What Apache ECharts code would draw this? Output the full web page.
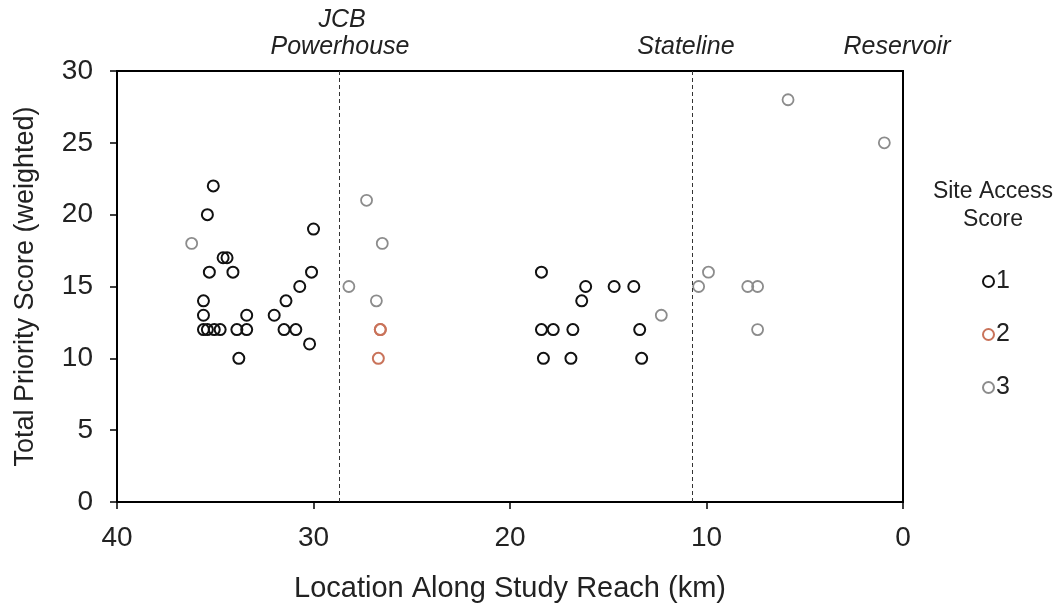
<!DOCTYPE html>
<html>
<head>
<meta charset="utf-8">
<script src="https://cdn.jsdelivr.net/npm/echarts@6/dist/echarts.min.js"></script>
<style>html,body{margin:0;padding:0;background:#fff}#c{width:1060px;height:608px}</style>
</head>
<body>
<div id="c"></div>
<script>
// Site Access Score 1
const access1 = [
  [35.1, 22], [35.4, 20], [34.6, 17], [34.4, 17], [35.3, 16], [34.1, 16],
  [30.0, 19], [30.1, 16], [30.7, 15], [31.4, 14], [35.6, 14], [35.6, 13],
  [33.4, 13], [32.0, 13], [35.6, 12], [35.4, 12], [35.05, 12], [34.75, 12],
  [33.9, 12], [33.4, 12], [31.5, 12], [30.9, 12], [30.2, 11], [33.8, 10],
  [18.4, 16], [16.15, 15], [14.7, 15], [13.7, 15], [16.35, 14],
  [18.4, 12], [17.8, 12], [16.8, 12], [13.4, 12],
  [18.3, 10], [16.9, 10], [13.3, 10]
];
// Site Access Score 2
const access2 = [
  [26.6, 12], [26.6, 12], [26.7, 10]
];
// Site Access Score 3
const access3 = [
  [36.2, 18], [28.2, 15], [27.3, 21], [26.5, 18], [26.8, 14],
  [12.3, 13], [5.85, 28], [0.95, 25], [9.9, 16], [10.4, 15],
  [7.9, 15], [7.4, 15], [7.4, 12]
];
// Reference locations (km)
const landmarks = [
  { name: 'JCB Powerhouse', km: 28.7 },
  { name: 'Stateline', km: 10.7 }
];
const xTicks = [0, 10, 20, 30, 40];
const yTicks = [0, 5, 10, 15, 20, 25, 30];

const chart = echarts.init(document.getElementById('c'), null, { renderer: 'canvas' });
const FONT = 'Liberation Sans, Arial, sans-serif';
const sym = (color, bw) => ({
  type: 'scatter', symbol: 'circle', symbolSize: 11,
  itemStyle: { color: 'rgba(0,0,0,0)', borderColor: color, borderWidth: bw, opacity: 1 },
  emphasis: { disabled: true }
});
chart.setOption({
  animation: false,
  backgroundColor: '#fff',
  grid: { left: 117, right: 157, top: 71, bottom: 103, show: true, borderColor: '#000', borderWidth: 2 },
  xAxis: {
    type: 'value', inverse: true, min: 0, max: 40, interval: 10,
    name: 'Location Along Study Reach (km)', nameLocation: 'middle', nameGap: 72,
    nameTextStyle: { fontFamily: FONT, fontSize: 29, color: '#222' },
    axisLine: { show: true, onZero: false, lineStyle: { color: '#000', width: 2 } },
    axisTick: { show: true, length: 7, lineStyle: { color: '#000', width: 1.5 } },
    axisLabel: { fontFamily: FONT, fontSize: 28, color: '#222', margin: 22,
      formatter: v => xTicks.includes(v) ? String(v) : '' },
    splitLine: { show: false }
  },
  yAxis: {
    type: 'value', min: 0, max: 30, interval: 5,
    name: 'Total Priority Score (weighted)', nameLocation: 'middle', nameGap: 78,
    nameTextStyle: { fontFamily: FONT, fontSize: 27, color: '#222' },
    axisLine: { show: true, onZero: false, lineStyle: { color: '#000', width: 2 } },
    axisTick: { show: true, length: 7, lineStyle: { color: '#000', width: 1.5 } },
    axisLabel: { fontFamily: FONT, fontSize: 28, color: '#222', margin: 24,
      formatter: v => yTicks.includes(v) ? String(v) : '' },
    splitLine: { show: false }
  },
  legend: {
    orient: 'vertical', left: 977, top: 264, itemGap: 28, itemWidth: 11, itemHeight: 11,
    textStyle: { fontFamily: FONT, fontSize: 25, color: '#222', padding: [0, 0, 0, -3] },
    data: ['1', '2', '3']
  },
  series: [
    Object.assign(sym('#111', 2), { name: '1', data: access1, z: 3,
      markLine: {
        silent: true, symbol: ['none', 'none'], label: { show: false },
        lineStyle: { type: [4, 3], color: '#333', width: 1 },
        data: landmarks.map(l => ({ xAxis: l.km }))
      } }),
    Object.assign(sym('#c9735a', 2), { name: '2', data: access2, z: 2 }),
    Object.assign(sym('#8c8c8c', 1.8), { name: '3', data: access3, z: 2 })
  ],
  graphic: [
    { type: 'text', position: [342, 20], style: { text: 'JCB', font: 'italic 25px ' + FONT, fill: '#222', textAlign: 'center', textVerticalAlign: 'middle' } },
    { type: 'text', position: [340, 47], style: { text: 'Powerhouse', font: 'italic 25px ' + FONT, fill: '#222', textAlign: 'center', textVerticalAlign: 'middle' } },
    { type: 'text', position: [686, 47], style: { text: 'Stateline', font: 'italic 25px ' + FONT, fill: '#222', textAlign: 'center', textVerticalAlign: 'middle' } },
    { type: 'text', position: [897, 47], style: { text: 'Reservoir', font: 'italic 25px ' + FONT, fill: '#222', textAlign: 'center', textVerticalAlign: 'middle' } },
    { type: 'text', position: [993, 192], style: { text: 'Site Access', font: '23px ' + FONT, fill: '#222', textAlign: 'center', textVerticalAlign: 'middle' } },
    { type: 'text', position: [993, 220], style: { text: 'Score', font: '23px ' + FONT, fill: '#222', textAlign: 'center', textVerticalAlign: 'middle' } }
  ]
});
</script>
</body>
</html>
